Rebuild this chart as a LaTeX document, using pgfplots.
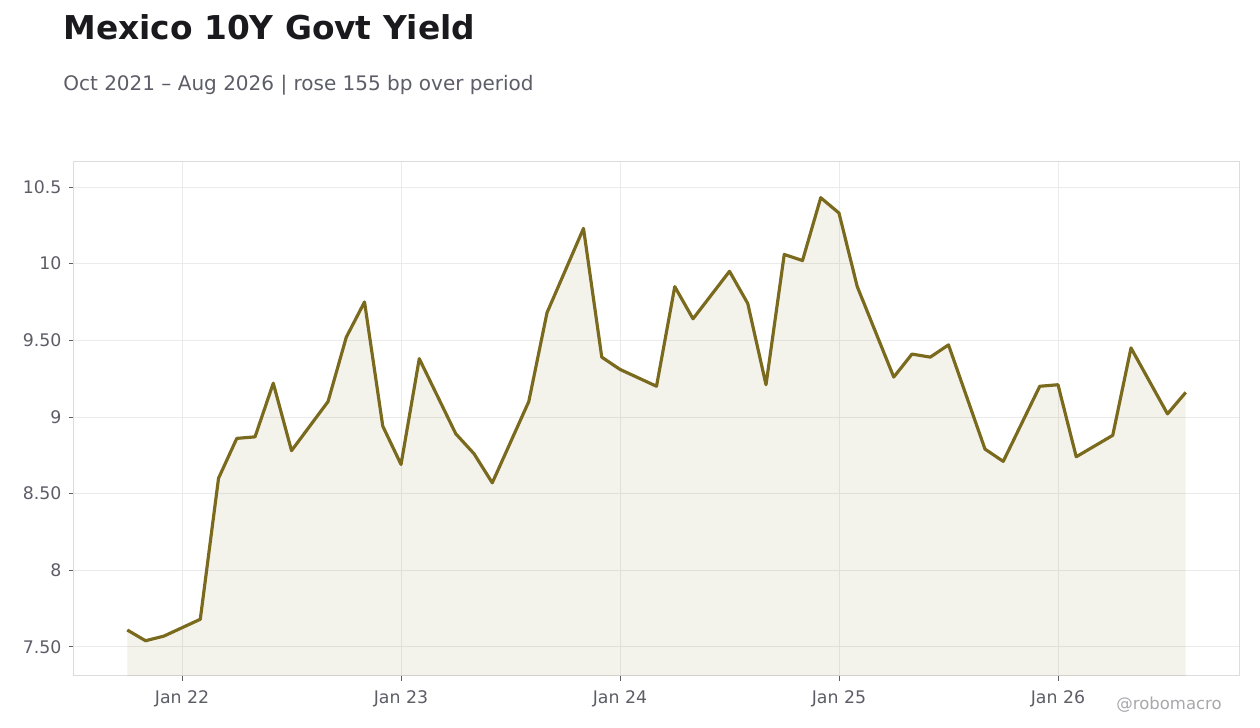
\documentclass[border=0pt]{standalone}
\usepackage{pgfplots}
\pgfplotsset{compat=1.18}
\usepackage{fontspec}
\setmainfont{DejaVu Sans}

\definecolor{linecol}{HTML}{7A6A1E}
\definecolor{gridcol}{HTML}{EBEBEB}
\definecolor{framecol}{HTML}{DCDCDE}
\definecolor{tickcol}{HTML}{5C5D66}
\definecolor{titlecol}{HTML}{1A1A1E}
\definecolor{markcol}{HTML}{A8A8AC}

\newcommand\px{0.6pt}

\begin{document}
\begin{tikzpicture}
\useasboundingbox (0,0) rectangle (1260*\px,728*\px);

\node[anchor=base west, inner sep=0, text=titlecol, font=\fontsize{19.7}{22}\selectfont\bfseries]
  at (63*\px,688*\px) {Mexico 10Y Govt Yield};
\node[anchor=base west, inner sep=0, text=tickcol, font=\fontsize{12}{14}\selectfont]
  at (63*\px,637*\px) {Oct 2021 – Aug 2026 | rose 155 bp over period};

\begin{axis}[
    at={(74*\px,52*\px)}, anchor=south west,
    scale only axis,
    width=1165*\px, height=514*\px,
    xmin=-5.92, xmax=57.92,
    ymin=7.31, ymax=10.663,
    xtick={0,12,24,36,48},
    xticklabels={Jan 22,Jan 23,Jan 24,Jan 25,Jan 26},
    ytick={7.5,8,8.5,9,9.5,10,10.5},
    yticklabels={7.50,8,8.50,9,9.50,10,10.5},
    xtick pos=bottom, ytick pos=left,
    tick align=outside,
    major tick length=3pt,
    tick style={tickcol, line width=0.5pt},
    grid=major,
    major grid style={gridcol, line width=0.5pt},
    axis line style={framecol, line width=0.6pt},
    ticklabel style={text=tickcol, font=\fontsize{10.4}{12}\selectfont},
    /pgf/number format/assume math mode=true,
    xticklabel shift=2pt,
    yticklabel shift=1pt,
    clip=true,
]
\addplot[draw=none, fill=linecol, fill opacity=0.09, forget plot] table {
-3 7.61
-2 7.54
-1 7.57
1 7.68
2 8.60
3 8.86
4 8.87
5 9.22
6 8.78
8 9.10
9 9.52
10 9.75
11 8.94
12 8.69
13 9.38
15 8.89
16 8.76
17 8.57
19 9.10
20 9.68
22 10.23
23 9.39
24 9.31
26 9.20
27 9.85
28 9.64
30 9.95
31 9.74
32 9.21
33 10.06
34 10.02
35 10.43
36 10.33
37 9.85
39 9.26
40 9.41
41 9.39
42 9.47
44 8.79
45 8.71
47 9.20
48 9.21
49 8.74
51 8.88
52 9.45
54 9.02
55 9.16
} \closedcycle;
\addplot[linecol, line width=1.9pt, line join=round] table {
-3 7.61
-2 7.54
-1 7.57
1 7.68
2 8.60
3 8.86
4 8.87
5 9.22
6 8.78
8 9.10
9 9.52
10 9.75
11 8.94
12 8.69
13 9.38
15 8.89
16 8.76
17 8.57
19 9.10
20 9.68
22 10.23
23 9.39
24 9.31
26 9.20
27 9.85
28 9.64
30 9.95
31 9.74
32 9.21
33 10.06
34 10.02
35 10.43
36 10.33
37 9.85
39 9.26
40 9.41
41 9.39
42 9.47
44 8.79
45 8.71
47 9.20
48 9.21
49 8.74
51 8.88
52 9.45
54 9.02
55 9.16
};
\end{axis}

\node[anchor=base east, inner sep=0, text=markcol, font=\fontsize{9.9}{11}\selectfont]
  at (1222*\px,18*\px) {@robomacro};
\end{tikzpicture}
\end{document}
